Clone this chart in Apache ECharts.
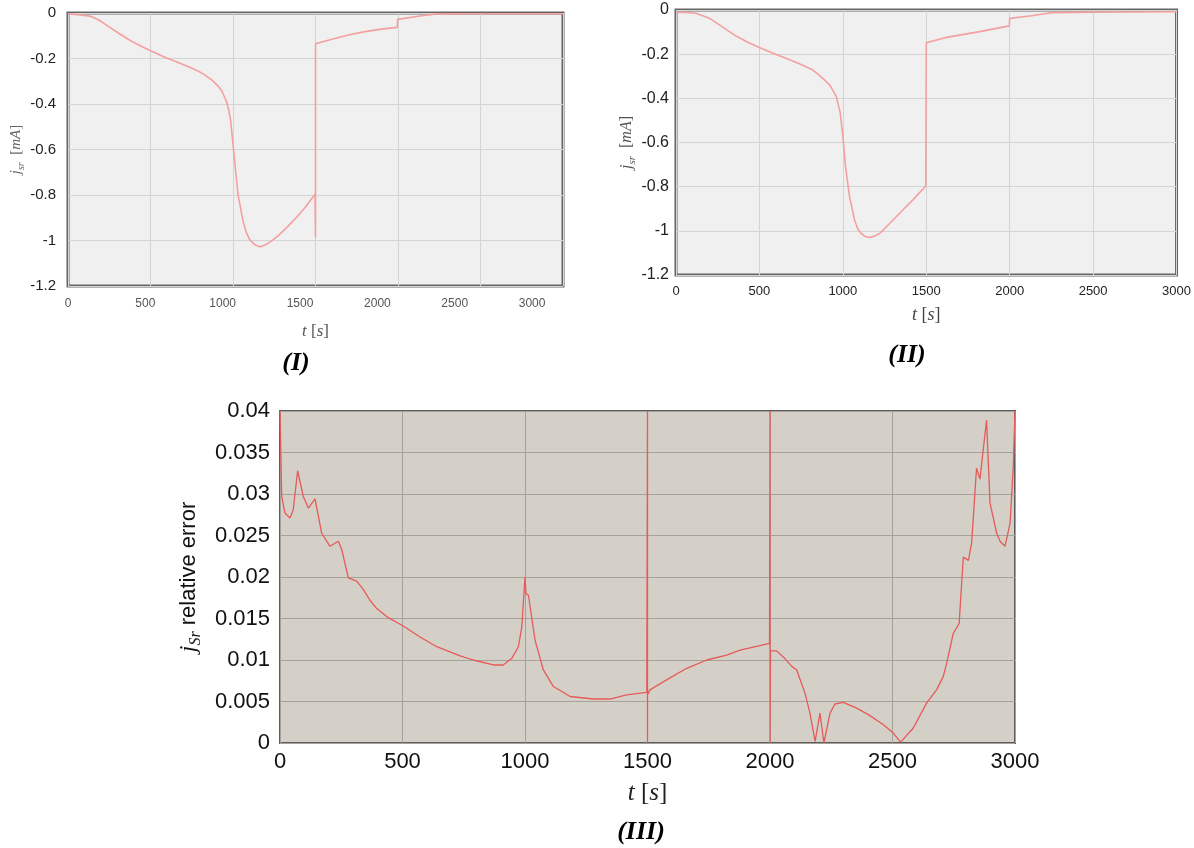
<!DOCTYPE html>
<html>
<head>
<meta charset="utf-8">
<script src="https://cdn.jsdelivr.net/npm/echarts@6/dist/echarts.min.js"></script>
<style>html,body{margin:0;padding:0;background:#fff;}#c{width:1194px;height:848px;}</style>
</head>
<body>
<div id="c"></div>
<script>
// Panel (I) data
const tI = [0,60,141,190,242,310,385,450,507,580,649,720,791,828,873,909,934,960,975,986,1006,1030,1061,1080,1101,1130,1162,1195,1233,1280,1334,1385,1436,1497,1500,1500,1588,1700,1800,1900,1995,1998,2133,2234,2400,3000];
const jI = [-0.004,-0.008,-0.015,-0.032,-0.058,-0.090,-0.124,-0.148,-0.168,-0.192,-0.212,-0.233,-0.256,-0.272,-0.295,-0.320,-0.345,-0.388,-0.430,-0.474,-0.621,-0.797,-0.915,-0.963,-0.996,-1.018,-1.028,-1.02,-1.003,-0.975,-0.937,-0.898,-0.856,-0.797,-0.988,-0.135,-0.118,-0.097,-0.082,-0.071,-0.063,-0.028,-0.013,-0.004,-0.003,-0.003];
// Panel (II) data
const tII = [0,60,120,200,260,360,430,500,570,640,700,760,820,860,920,960,984,1000,1016,1040,1070,1090,1110,1135,1160,1190,1220,1270,1320,1370,1420,1497,1500,1621,1820,1998,2000,2120,2220,2260,2500,3000];
const jII = [-0.010,-0.011,-0.015,-0.037,-0.067,-0.118,-0.146,-0.170,-0.192,-0.213,-0.231,-0.250,-0.272,-0.296,-0.338,-0.390,-0.464,-0.571,-0.708,-0.845,-0.951,-0.992,-1.012,-1.026,-1.030,-1.024,-1.012,-0.975,-0.936,-0.898,-0.860,-0.797,-0.148,-0.124,-0.098,-0.072,-0.038,-0.027,-0.016,-0.012,-0.010,-0.008];
// Panel (III) data
const tIII = [0,7,20,41,54,72,95,116,143,170,204,238,252,279,313,340,367,395,442,503,570,640,735,789,871,911,946,973,987,1000,1004,1014,1041,1075,1116,1184,1279,1347,1415,1497,1500,1500,1500,1510,1578,1660,1742,1823,1878,1998,2000,2000,2002,2027,2060,2090,2109,2143,2163,2184,2204,2220,2245,2265,2299,2354,2408,2463,2503,2533,2585,2639,2680,2707,2721,2748,2772,2789,2810,2823,2843,2857,2884,2898,2925,2939,2959,2980,2993,3000];
const eIII = [0.04,0.0297,0.0277,0.0271,0.0281,0.0328,0.0297,0.0283,0.0294,0.0253,0.0237,0.0243,0.0233,0.0199,0.0195,0.0185,0.0172,0.0162,0.0151,0.0141,0.0128,0.0116,0.0105,0.0100,0.0094,0.0094,0.0102,0.0116,0.0140,0.0200,0.0180,0.0178,0.0124,0.0088,0.0068,0.0056,0.0053,0.0053,0.0058,0.0061,0.04,0,0.0058,0.0064,0.0076,0.0090,0.0100,0.0106,0.0112,0.0120,0.04,0,0.0111,0.0111,0.0102,0.0092,0.0088,0.0060,0.0036,0.0002,0.0036,0.0000,0.0036,0.0047,0.0049,0.0042,0.0033,0.0022,0.0012,0.0001,0.0018,0.0048,0.0064,0.0080,0.0096,0.0132,0.0144,0.0224,0.0220,0.0241,0.0331,0.0318,0.0389,0.0289,0.0253,0.0243,0.0237,0.0265,0.0333,0.04];
const panelTitles = ['(I)', '(II)', '(III)'];

const zip = (a, b) => a.map((v, i) => [v, b[i]]);
const serif = "'Liberation Serif', 'DejaVu Serif', serif";
const sans = "'Liberation Sans', Arial, sans-serif";
const plain = v => String(v);

function yNameRich(size, col) {
  return {
    j: {fontFamily: serif, fontStyle: 'italic', fontSize: size, color: col, lineHeight: size + 6},
    s: {fontFamily: serif, fontStyle: 'italic', fontSize: Math.round(size * 0.68), color: col, lineHeight: Math.round(size * 0.6), verticalAlign: 'bottom'},
    n: {fontFamily: serif, fontSize: size, color: col, lineHeight: size + 6},
    m: {fontFamily: serif, fontStyle: 'italic', fontSize: size, color: col, lineHeight: size + 6},
    t: {fontFamily: sans, fontSize: size - 2, color: col, lineHeight: size + 6}
  };
}
function xNameRich(size, col) {
  return {
    i: {fontFamily: serif, fontStyle: 'italic', fontSize: size, color: col},
    n: {fontFamily: serif, fontSize: size, color: col}
  };
}

const chart = echarts.init(document.getElementById('c'), null, {renderer: 'canvas'});
const option = {
  animation: false,
  backgroundColor: '#ffffff',
  grid: [
    {left: 68, top: 13, width: 495, height: 273, show: true, backgroundColor: '#f0f0f0', borderColor: '#666666', borderWidth: 3},
    {left: 676, top: 10, width: 501, height: 265, show: true, backgroundColor: '#f0f0f0', borderColor: '#666666', borderWidth: 3},
    {left: 280, top: 411, width: 735, height: 332, show: true, backgroundColor: '#d4d0c8', borderColor: '#5c5c5c', borderWidth: 2}
  ],
  xAxis: [
    {gridIndex: 0, type: 'value', min: 0, max: 3000, interval: 500, position: 'bottom',
     axisLine: {show: false}, axisTick: {show: false}, axisLabel: {show: false},
     splitLine: {show: true, lineStyle: {color: '#d4d4d4', width: 1}}},
    {gridIndex: 0, type: 'value', min: 0, max: 3200, interval: 500, position: 'bottom',
     axisLine: {show: false, onZero: false}, axisTick: {show: false}, splitLine: {show: false},
     axisLabel: {margin: 12, fontSize: 12, color: '#555', fontFamily: sans, formatter: v => (v % 500 === 0 ? String(v) : '')},
     name: '{i|t}{n| [}{i|s}{n|]}', nameLocation: 'middle', nameGap: 37,
     nameTextStyle: {rich: xNameRich(17, '#555')}},
    {gridIndex: 1, type: 'value', min: 0, max: 3000, interval: 500, position: 'bottom',
     axisLine: {show: false, onZero: false}, axisTick: {show: false},
     axisLabel: {margin: 10, fontSize: 13, color: '#222', fontFamily: sans, formatter: plain},
     splitLine: {show: true, lineStyle: {color: '#d4d4d4', width: 1}},
     name: '{i|t}{n| [}{i|s}{n|]}', nameLocation: 'middle', nameGap: 31,
     nameTextStyle: {rich: xNameRich(18, '#444')}},
    {gridIndex: 2, type: 'value', min: 0, max: 3000, interval: 500, position: 'bottom',
     axisLine: {show: false, onZero: false}, axisTick: {show: false},
     axisLabel: {margin: 8, fontSize: 22, color: '#111', fontFamily: sans, formatter: plain},
     splitLine: {show: true, lineStyle: {color: '#a6a29b', width: 1}},
     name: '{i|t}{n| [}{i|s}{n|]}', nameLocation: 'middle', nameGap: 38,
     nameTextStyle: {rich: xNameRich(25, '#222')}}
  ],
  yAxis: [
    {gridIndex: 0, type: 'value', min: -1.2, max: 0, interval: 0.2,
     axisLine: {show: false}, axisTick: {show: false},
     axisLabel: {margin: 12, fontSize: 15, color: '#222', fontFamily: sans},
     splitLine: {show: true, lineStyle: {color: '#d4d4d4', width: 1}},
     name: '{j|j}{s|sr}{n|  [}{m|mA}{n|]}', nameLocation: 'middle', nameGap: 24, nameRotate: 90,
     nameTextStyle: {rich: yNameRich(15, '#666')}},
    {gridIndex: 1, type: 'value', min: -1.2, max: 0, interval: 0.2,
     axisLine: {show: false}, axisTick: {show: false},
     axisLabel: {margin: 7, fontSize: 16, color: '#222', fontFamily: sans},
     splitLine: {show: true, lineStyle: {color: '#d4d4d4', width: 1}},
     name: '{j|j}{s|sr}{n|  [}{m|mA}{n|]}', nameLocation: 'middle', nameGap: 35, nameRotate: 90,
     nameTextStyle: {rich: yNameRich(16, '#555')}},
    {gridIndex: 2, type: 'value', min: 0, max: 0.04, interval: 0.005,
     axisLine: {show: false}, axisTick: {show: false},
     axisLabel: {margin: 10, fontSize: 22, color: '#111', fontFamily: sans},
     splitLine: {show: true, lineStyle: {color: '#a6a29b', width: 1}},
     name: '{j|j}{s|Sr}{t| relative error}', nameLocation: 'middle', nameGap: 76, nameRotate: 90,
     nameTextStyle: {rich: yNameRich(24, '#111')}}
  ],
  series: [
    {type: 'line', xAxisIndex: 0, yAxisIndex: 0, data: zip(tI, jI), showSymbol: false, clip: true,
     lineStyle: {color: '#f4a0a0', width: 1.6}},
    {type: 'line', xAxisIndex: 2, yAxisIndex: 1, data: zip(tII, jII), showSymbol: false, clip: true,
     lineStyle: {color: '#f4a0a0', width: 1.6}},
    {type: 'line', xAxisIndex: 3, yAxisIndex: 2, data: zip(tIII, eIII), showSymbol: false, clip: true,
     lineStyle: {color: '#e65a58', width: 1.3}}
  ],
  graphic: [
    {type: 'text', x: 296, y: 363, style: {text: panelTitles[0], fontFamily: serif, fontStyle: 'italic', fontWeight: 'bold', fontSize: 26, fill: '#000', align: 'center', verticalAlign: 'middle'}},
    {type: 'text', x: 907, y: 355, style: {text: panelTitles[1], fontFamily: serif, fontStyle: 'italic', fontWeight: 'bold', fontSize: 26, fill: '#000', align: 'center', verticalAlign: 'middle'}},
    {type: 'text', x: 641, y: 832, style: {text: panelTitles[2], fontFamily: serif, fontStyle: 'italic', fontWeight: 'bold', fontSize: 26, fill: '#000', align: 'center', verticalAlign: 'middle'}}
  ]
};
chart.setOption(option);
</script>
</body>
</html>
